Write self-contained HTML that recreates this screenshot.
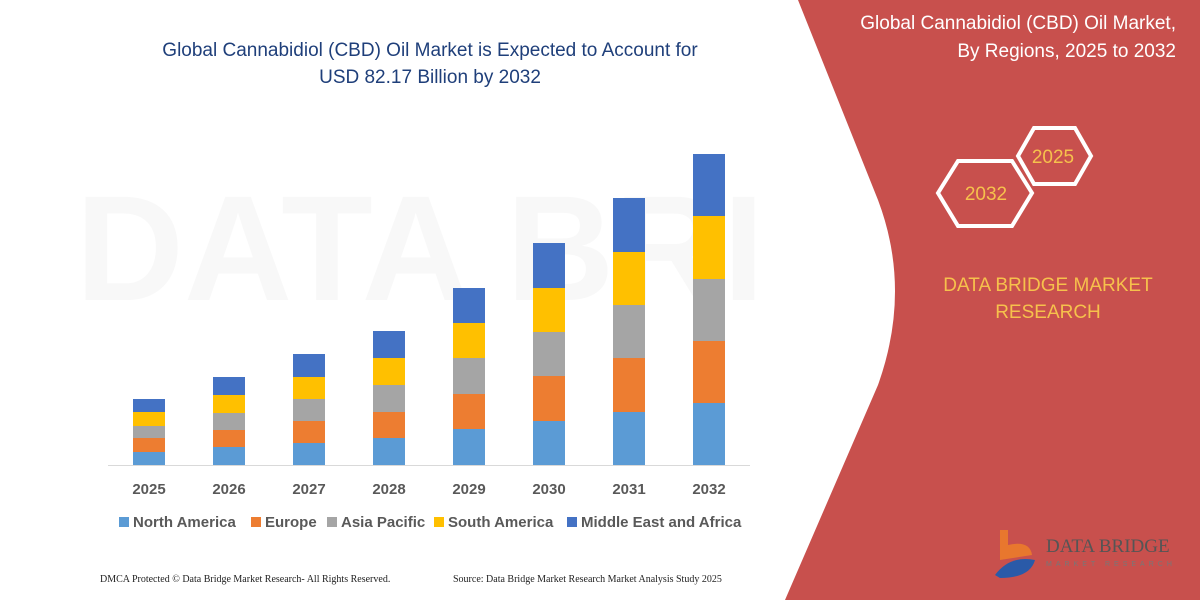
<!DOCTYPE html>
<html><head><meta charset="utf-8"><style>
body{margin:0;width:1200px;height:600px;overflow:hidden;background:#fff;font-family:"Liberation Sans",sans-serif}
</style></head><body>
<svg width="1200" height="600" xmlns="http://www.w3.org/2000/svg" style="position:absolute;left:0;top:0">
<rect width="1200" height="600" fill="#fff"/>
<text x="420" y="300" font-size="150" fill="#000" opacity="0.025" font-weight="bold" text-anchor="middle" font-family="Liberation Sans">DATA BRI</text>
<path d="M798 0 L1200 0 L1200 600 L785 600 L878 385 Q912 290 878 200 Z" fill="#c8504d"/>
<g font-family="Liberation Sans" fill="#fff" font-size="19" text-anchor="end">
<text x="1176" y="29">Global Cannabidiol (CBD) Oil Market,</text>
<text x="1176" y="57">By Regions, 2025 to 2032</text>
</g>
<polygon points="1018,156 1034,128 1075,128 1091,156 1075,184 1034,184" fill="none" stroke="#fff" stroke-width="4"/>
<polygon points="938,193 958,161 1012,161 1032,193 1012,226 958,226" fill="none" stroke="#fff" stroke-width="4"/>
<g font-family="Liberation Sans" fill="#f6c14c" text-anchor="middle">
<text x="1053" y="163" font-size="19">2025</text>
<text x="986" y="200" font-size="19">2032</text>
<text x="1048" y="291" font-size="19">DATA BRIDGE MARKET</text>
<text x="1048" y="318" font-size="19">RESEARCH</text>
</g>
<path d="M1000 530 L1008 530 L1008 545 Q1030 540 1032 555 L1000 560 Z" fill="#e8772e"/>
<path d="M995 575 Q1010 555 1035 560 Q1030 578 1000 578 Z" fill="#2a5aa8"/>
<text x="1046" y="552" font-size="19" fill="#555" font-family="Liberation Serif">DATA BRIDGE</text>
<text x="1046" y="566" font-size="7" fill="#777" letter-spacing="4">MARKET RESEARCH</text>
<g font-family="Liberation Sans" fill="#1f3f7a" font-size="19" text-anchor="middle">
<text x="430" y="56">Global Cannabidiol (CBD) Oil Market is Expected to Account for</text>
<text x="430" y="83">USD 82.17 Billion by 2032</text>
</g>
<line x1="108" y1="465.5" x2="750" y2="465.5" stroke="#d9d9d9"/>
<g>
<rect x="133" y="452" width="32" height="13" fill="#5b9bd5"/><rect x="133" y="438" width="32" height="14" fill="#ed7d31"/><rect x="133" y="426" width="32" height="12" fill="#a5a5a5"/><rect x="133" y="412" width="32" height="14" fill="#ffc000"/><rect x="133" y="399" width="32" height="13" fill="#4472c4"/>
<rect x="213" y="447" width="32" height="18" fill="#5b9bd5"/><rect x="213" y="430" width="32" height="17" fill="#ed7d31"/><rect x="213" y="413" width="32" height="17" fill="#a5a5a5"/><rect x="213" y="395" width="32" height="18" fill="#ffc000"/><rect x="213" y="377" width="32" height="18" fill="#4472c4"/>
<rect x="293" y="443" width="32" height="22" fill="#5b9bd5"/><rect x="293" y="421" width="32" height="22" fill="#ed7d31"/><rect x="293" y="399" width="32" height="22" fill="#a5a5a5"/><rect x="293" y="377" width="32" height="22" fill="#ffc000"/><rect x="293" y="354" width="32" height="23" fill="#4472c4"/>
<rect x="373" y="438" width="32" height="27" fill="#5b9bd5"/><rect x="373" y="412" width="32" height="26" fill="#ed7d31"/><rect x="373" y="385" width="32" height="27" fill="#a5a5a5"/><rect x="373" y="358" width="32" height="27" fill="#ffc000"/><rect x="373" y="331" width="32" height="27" fill="#4472c4"/>
<rect x="453" y="429" width="32" height="36" fill="#5b9bd5"/><rect x="453" y="394" width="32" height="35" fill="#ed7d31"/><rect x="453" y="358" width="32" height="36" fill="#a5a5a5"/><rect x="453" y="323" width="32" height="35" fill="#ffc000"/><rect x="453" y="288" width="32" height="35" fill="#4472c4"/>
<rect x="533" y="421" width="32" height="44" fill="#5b9bd5"/><rect x="533" y="376" width="32" height="45" fill="#ed7d31"/><rect x="533" y="332" width="32" height="44" fill="#a5a5a5"/><rect x="533" y="288" width="32" height="44" fill="#ffc000"/><rect x="533" y="243" width="32" height="45" fill="#4472c4"/>
<rect x="613" y="412" width="32" height="53" fill="#5b9bd5"/><rect x="613" y="358" width="32" height="54" fill="#ed7d31"/><rect x="613" y="305" width="32" height="53" fill="#a5a5a5"/><rect x="613" y="252" width="32" height="53" fill="#ffc000"/><rect x="613" y="198" width="32" height="54" fill="#4472c4"/>
<rect x="693" y="403" width="32" height="62" fill="#5b9bd5"/><rect x="693" y="341" width="32" height="62" fill="#ed7d31"/><rect x="693" y="279" width="32" height="62" fill="#a5a5a5"/><rect x="693" y="216" width="32" height="63" fill="#ffc000"/><rect x="693" y="154" width="32" height="62" fill="#4472c4"/>
</g>
<g font-family="Liberation Sans" font-size="15" font-weight="bold" fill="#595959" text-anchor="middle">
<text x="149" y="494">2025</text><text x="229" y="494">2026</text><text x="309" y="494">2027</text><text x="389" y="494">2028</text><text x="469" y="494">2029</text><text x="549" y="494">2030</text><text x="629" y="494">2031</text><text x="709" y="494">2032</text>
</g>
<g font-family="Liberation Sans" font-size="15" font-weight="bold" fill="#595959">
<rect x="119" y="517" width="10" height="10" fill="#5b9bd5"/><text x="133" y="527">North America</text>
<rect x="251" y="517" width="10" height="10" fill="#ed7d31"/><text x="265" y="527">Europe</text>
<rect x="327" y="517" width="10" height="10" fill="#a5a5a5"/><text x="341" y="527">Asia Pacific</text>
<rect x="434" y="517" width="10" height="10" fill="#ffc000"/><text x="448" y="527">South America</text>
<rect x="567" y="517" width="10" height="10" fill="#4472c4"/><text x="581" y="527">Middle East and Africa</text>
</g>
<g font-family="Liberation Serif" font-size="10" fill="#222">
<text x="100" y="582">DMCA Protected © Data Bridge Market Research-  All Rights Reserved.</text>
<text x="453" y="582">Source: Data Bridge Market Research  Market Analysis Study 2025</text>
</g>
</svg>
</body></html>
